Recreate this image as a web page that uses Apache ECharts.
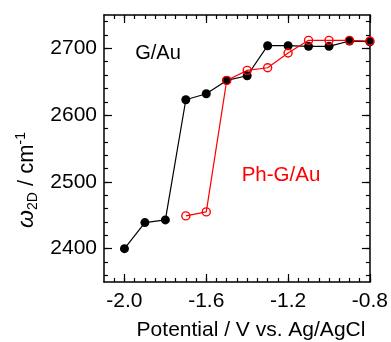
<!DOCTYPE html>
<html>
<head>
<meta charset="utf-8">
<script src="https://cdn.jsdelivr.net/npm/echarts@6/dist/echarts.min.js"></script>
<style>html,body{margin:0;padding:0;background:#fff}#c{width:391px;height:342px}</style>
</head>
<body>
<div id="c"></div>
<script>
// Data (potential in V vs Ag/AgCl, omega_2D in cm^-1)
var gAuX = [-2.0, -1.9, -1.8, -1.7, -1.6, -1.5, -1.4, -1.3, -1.2, -1.1, -1.0, -0.9, -0.8];
var gAuY = [2400, 2439, 2443, 2623, 2632, 2652, 2659, 2704, 2704, 2703, 2703, 2711, 2710];
var phX = [-1.7, -1.6, -1.5, -1.4, -1.3, -1.2, -1.1, -1.0, -0.9, -0.8];
var phY = [2449, 2455, 2652, 2667, 2671, 2693, 2712, 2712, 2712, 2711];
var xMajor = [-2.0, -1.6, -1.2, -0.8];
var yMajor = [2400, 2500, 2600, 2700];
var xMinor = [];
for (var k = -207; k <= -80; k++) { if (k % 5 === 0) xMinor.push(k / 100); }
var yMinor = [];
for (var v = 2360; v <= 2740; v += 20) yMinor.push(v);

function pairs(xs, ys) { return xs.map(function (x, i) { return [x, ys[i]]; }); }

var FONT = 'Liberation Sans, Arial, sans-serif';
var lineCol = '#000';

function xAx(pos, ticks, len, showLine, showLabel) {
  return {
    type: 'value', position: pos, min: -2.1, max: -0.8,
    axisLine: { show: showLine, onZero: false, lineStyle: { color: lineCol, width: 1.5 } },
    axisTick: { show: true, inside: true, length: len, customValues: ticks, lineStyle: { color: lineCol, width: 1.2 } },
    axisLabel: { show: showLabel, customValues: xMajor, margin: 9, fontSize: 21, fontFamily: FONT, color: '#000',
      formatter: function (val) { return val.toFixed(1); } },
    splitLine: { show: false }
  };
}
function yAx(pos, ticks, len, showLine, showLabel) {
  return {
    type: 'value', position: pos, min: 2350, max: 2750,
    axisLine: { show: showLine, onZero: false, lineStyle: { color: lineCol, width: 1.5 } },
    axisTick: { show: true, inside: true, length: len, customValues: ticks, lineStyle: { color: lineCol, width: 1.2 } },
    axisLabel: { show: showLabel, customValues: yMajor, margin: 7, fontSize: 21, fontFamily: FONT, color: '#000',
      formatter: function (val) { return String(val); } },
    splitLine: { show: false }
  };
}

var chart = echarts.init(document.getElementById('c'), null, { renderer: 'canvas' });
chart.setOption({
  animation: false,
  backgroundColor: '#fff',
  grid: { left: 104, right: 19, top: 15, bottom: 60, containLabel: false },
  xAxis: [
    xAx('bottom', xMajor, 8, true, true),
    xAx('bottom', xMinor, 4, false, false),
    xAx('top', xMajor, 8, true, false),
    xAx('top', xMinor, 4, false, false)
  ],
  yAxis: [
    yAx('left', yMajor, 8, true, true),
    yAx('left', yMinor, 4, false, false),
    yAx('right', yMajor, 8, true, false),
    yAx('right', yMinor, 4, false, false)
  ],
  series: [
    {
      type: 'line', data: pairs(gAuX, gAuY), clip: false,
      symbol: 'circle', symbolSize: 9,
      itemStyle: { color: '#000', borderWidth: 0 },
      lineStyle: { color: '#000', width: 1.2 }
    },
    {
      type: 'line', data: pairs(phX, phY), clip: false,
      symbol: 'circle', symbolSize: 8,
      itemStyle: { color: 'rgba(255,255,255,0)', borderColor: '#ff0000', borderWidth: 1.4 },
      lineStyle: { color: '#ff0000', width: 1.2 }
    }
  ],
  graphic: [
    { type: 'text', x: 158, y: 53, style: { text: 'G/Au', fontSize: 20, fontFamily: FONT, fill: '#000', align: 'center', verticalAlign: 'middle' } },
    { type: 'text', x: 281, y: 175, style: { text: 'Ph-G/Au', fontSize: 20.5, fontFamily: FONT, fill: '#ff0000', align: 'center', verticalAlign: 'middle' } },
    { type: 'text', x: 251, y: 330, style: { text: 'Potential / V vs. Ag/AgCl', fontSize: 21, fontFamily: FONT, fill: '#000', align: 'center', verticalAlign: 'middle' } },
    { type: 'text', x: 27, y: 180, rotation: Math.PI / 2,
      style: {
        text: '{w|ω}{s|2D}{n| / cm}{p|-1}', align: 'center', verticalAlign: 'middle',
        rich: {
          w: { fontSize: 23, fontStyle: 'italic', fontFamily: FONT, fill: '#000', lineHeight: 26 },
          s: { fontSize: 14, fontFamily: FONT, fill: '#000', lineHeight: 13, verticalAlign: 'bottom' },
          n: { fontSize: 22, fontFamily: FONT, fill: '#000', lineHeight: 26 },
          p: { fontSize: 14, fontFamily: FONT, fill: '#000', lineHeight: 13, verticalAlign: 'top' }
        }
      }
    }
  ]
});
</script>
</body>
</html>
